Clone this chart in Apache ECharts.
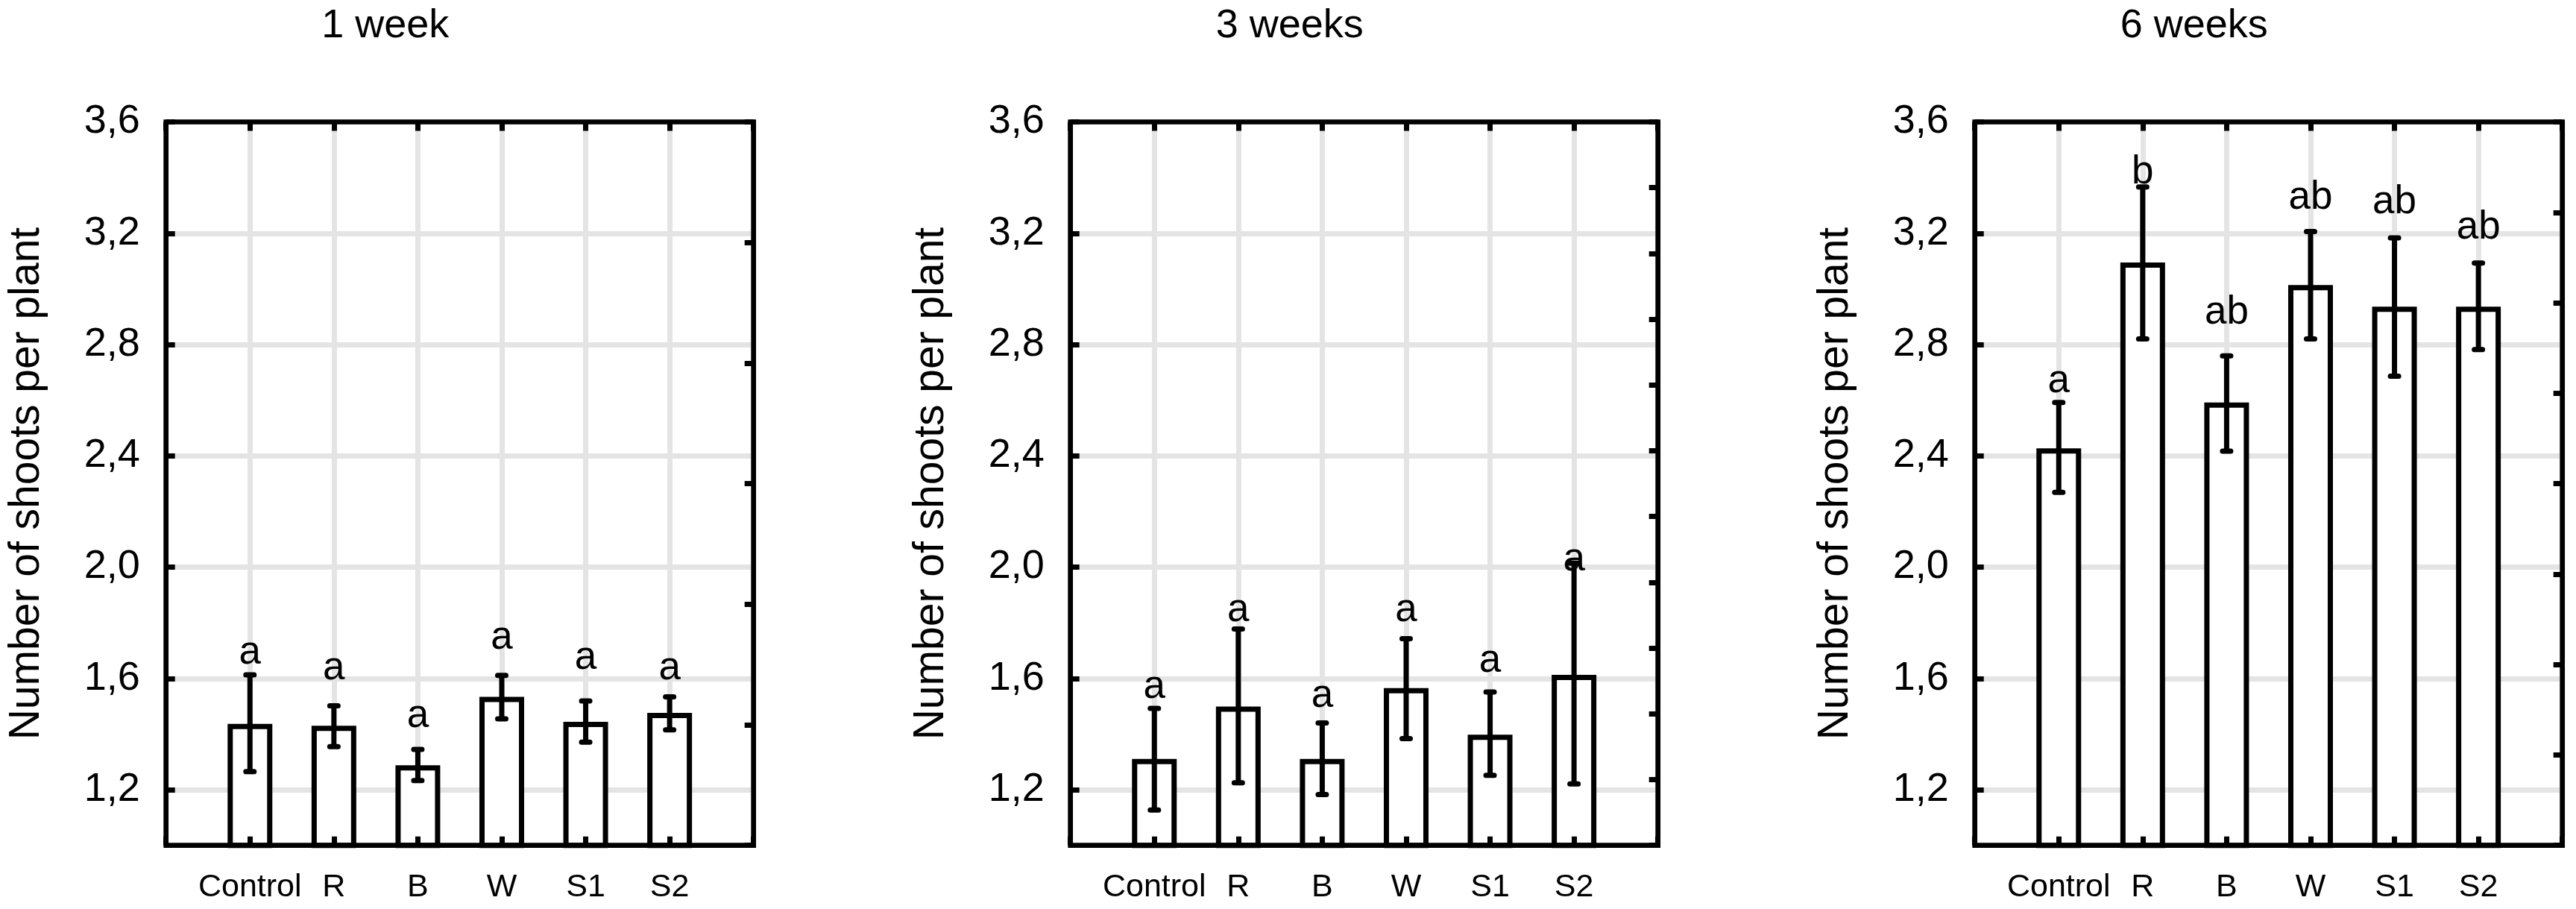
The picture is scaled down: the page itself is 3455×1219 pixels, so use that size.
<!DOCTYPE html>
<html>
<head>
<meta charset="utf-8">
<script src="https://cdn.jsdelivr.net/npm/echarts@6/dist/echarts.min.js"></script>
<style>
html,body{margin:0;padding:0;background:#fff;}
#chart{width:3455px;height:1219px;}
</style>
</head>
<body>
<div id="chart"></div>
<script>
// ---- data ----
const categories = ['Control', 'R', 'B', 'W', 'S1', 'S2'];
const panelTitles = ['1 week', '3 weeks', '6 weeks'];
const yTicks = [1.2, 1.6, 2.0, 2.4, 2.8, 3.2, 3.6];
const yName = 'Number of shoots per plant';

const means1 = [1.437, 1.430, 1.288, 1.534, 1.444, 1.476];
const low1   = [1.265, 1.355, 1.233, 1.455, 1.371, 1.415];
const high1  = [1.613, 1.502, 1.345, 1.611, 1.519, 1.534];
const letters1 = ['a', 'a', 'a', 'a', 'a', 'a'];
const letterAt1 = [1.649, 1.593, 1.420, 1.701, 1.628, 1.593];

const means2 = [1.311, 1.499, 1.311, 1.565, 1.398, 1.613];
const low2   = [1.127, 1.225, 1.183, 1.384, 1.252, 1.221];
const high2  = [1.492, 1.778, 1.440, 1.743, 1.551, 2.014];
const letters2 = ['a', 'a', 'a', 'a', 'a', 'a'];
const letterAt2 = [1.524, 1.801, 1.492, 1.801, 1.618, 1.983];

const means3 = [2.427, 3.095, 2.592, 3.014, 2.936, 2.936];
const low3   = [2.269, 2.820, 2.417, 2.820, 2.686, 2.782];
const high3  = [2.592, 3.366, 2.759, 3.206, 3.183, 3.093];
const letters3 = ['a', 'b', 'ab', 'ab', 'ab', 'ab'];
const letterAt3 = [2.623, 3.375, 2.870, 3.283, 3.266, 3.176];

const rightDivisions = [6, 11, 8];

// ---- layout / style ----
const FONT = "'Liberation Sans', Arial, Helvetica, sans-serif";
const gridLefts = [222.7, 1435.7, 2648.7];
const gridTop = 163.5, gridW = 788, gridH = 970.2;
const yMin = 1.0, yMax = 3.6;
const GRID_COLOR = '#e4e4e4';
const LW = 7;

const panels = [
  {means: means1, low: low1, high: high1, letters: letters1, letterAt: letterAt1},
  {means: means2, low: low2, high: high2, letters: letters2, letterAt: letterAt2},
  {means: means3, low: low3, high: high3, letters: letters3, letterAt: letterAt3}
];

const axisCats = [''].concat(categories, ['']);
const fmt = v => v.toFixed(1).replace('.', ',');

const grid = [], xAxis = [], yAxis = [], series = [], graphic = [];

panels.forEach((p, k) => {
  const left = gridLefts[k];
  grid.push({left: left, top: gridTop, width: gridW, height: gridH, containLabel: false});

  // x axes: 0 = grid lines, 1 = bottom labels/ticks, 2 = top ticks
  xAxis.push({
    gridIndex: k, type: 'category', data: axisCats, boundaryGap: false, position: 'bottom', z: 0,
    axisLine: {show: false}, axisTick: {show: false}, axisLabel: {show: false},
    splitLine: {show: true, lineStyle: {color: GRID_COLOR, width: 7}}
  });
  xAxis.push({
    gridIndex: k, type: 'category', data: axisCats, boundaryGap: false, position: 'bottom', z: 5,
    axisLine: {show: false},
    axisTick: {show: true, inside: true, length: 12, lineStyle: {color: '#000', width: LW}},
    axisLabel: {show: true, interval: 0, margin: 35, fontSize: 43, lineHeight: 43,
      fontFamily: FONT, color: '#000'},
    splitLine: {show: false}
  });
  xAxis.push({
    gridIndex: k, type: 'category', data: axisCats, boundaryGap: false, position: 'top', z: 5,
    axisLine: {show: false},
    axisTick: {show: true, inside: true, length: 12, lineStyle: {color: '#000', width: LW}},
    axisLabel: {show: false}, splitLine: {show: false}
  });

  // y axes: 0 = grid lines, 1 = left ticks/labels/name, 2 = right ticks
  yAxis.push({
    gridIndex: k, type: 'value', min: yMin, max: yMax, position: 'left', z: 0,
    axisLine: {show: false},
    axisTick: {show: false, customValues: yTicks},
    axisLabel: {show: false, customValues: yTicks},
    splitLine: {show: true, customValues: yTicks, lineStyle: {color: GRID_COLOR, width: 7}}
  });
  yAxis.push({
    gridIndex: k, type: 'value', min: yMin, max: yMax, position: 'left', z: 5,
    axisLine: {show: false},
    axisTick: {show: true, inside: true, length: 12, customValues: yTicks,
      lineStyle: {color: '#000', width: LW}},
    axisLabel: {show: true, customValues: yTicks, margin: 35, fontSize: 54, lineHeight: 54,
      padding: [0, 0, 7, 0],
      fontFamily: FONT, color: '#000', formatter: v => fmt(v)},
    splitLine: {show: false},
    name: yName, nameLocation: 'middle', nameRotate: 90, nameGap: 158,
    nameTextStyle: {fontSize: 57, fontFamily: FONT, color: '#000', lineHeight: 57}
  });
  yAxis.push({
    gridIndex: k, type: 'value', min: 0, max: rightDivisions[k], interval: 1, position: 'right', z: 5,
    axisLine: {show: false},
    axisTick: {show: true, inside: true, length: 12, lineStyle: {color: '#000', width: LW}},
    axisLabel: {show: false}, splitLine: {show: false}
  });

  const xi = 3 * k, yi = 3 * k;

  series.push({
    type: 'bar', xAxisIndex: xi, yAxisIndex: yi, z: 2,
    barWidth: 60, animation: false,
    itemStyle: {color: '#fff', borderColor: '#000', borderWidth: LW},
    data: ['-'].concat(p.means, ['-'])
  });

  series.push({
    type: 'custom', xAxisIndex: xi, yAxisIndex: yi, z: 3, animation: false,
    data: categories.map((c, i) => [i + 1, p.low[i], p.high[i]]),
    renderItem: (params, api) => {
      const lo = api.coord([api.value(0), api.value(1)]);
      const hi = api.coord([api.value(0), api.value(2)]);
      const half = 5.5;
      const st = {stroke: '#000', lineWidth: LW, lineCap: 'round'};
      return {type: 'group', children: [
        {type: 'line', shape: {x1: lo[0], y1: lo[1], x2: hi[0], y2: hi[1]}, style: {stroke: '#000', lineWidth: LW, lineCap: 'butt'}},
        {type: 'line', shape: {x1: hi[0] - half, y1: hi[1], x2: hi[0] + half, y2: hi[1]}, style: st},
        {type: 'line', shape: {x1: lo[0] - half, y1: lo[1], x2: lo[0] + half, y2: lo[1]}, style: st}
      ]};
    }
  });

  series.push({
    type: 'custom', xAxisIndex: xi, yAxisIndex: yi, z: 4, animation: false,
    data: categories.map((c, i) => [i + 1, p.letterAt[i]]),
    renderItem: (params, api) => {
      const pt = api.coord([api.value(0), api.value(1)]);
      return {type: 'text', x: pt[0], y: pt[1] - 16.5,
        style: {text: p.letters[params.dataIndex], fontSize: 53, fontFamily: FONT, fill: '#000',
          align: 'center', verticalAlign: 'middle', textAlign: 'center', textVerticalAlign: 'middle'}};
    }
  });

  // frame around each plot
  graphic.push({
    type: 'rect', z: 100, silent: true,
    shape: {x: left, y: gridTop, width: gridW, height: gridH},
    style: {fill: 'none', stroke: '#000', lineWidth: 6.7}
  });
  // panel title
  graphic.push({
    type: 'text', z: 100, silent: true,
    x: left + gridW / 2 - 100, y: 35,
    style: {text: panelTitles[k], fontSize: 54, fontFamily: FONT, fill: '#000',
      align: 'center', verticalAlign: 'middle', textAlign: 'center', textVerticalAlign: 'middle'}
  });
});

const chart = echarts.init(document.getElementById('chart'), null, {renderer: 'canvas'});
chart.setOption({
  animation: false,
  backgroundColor: '#fff',
  grid: grid, xAxis: xAxis, yAxis: yAxis, series: series, graphic: graphic
});
</script>
</body>
</html>
